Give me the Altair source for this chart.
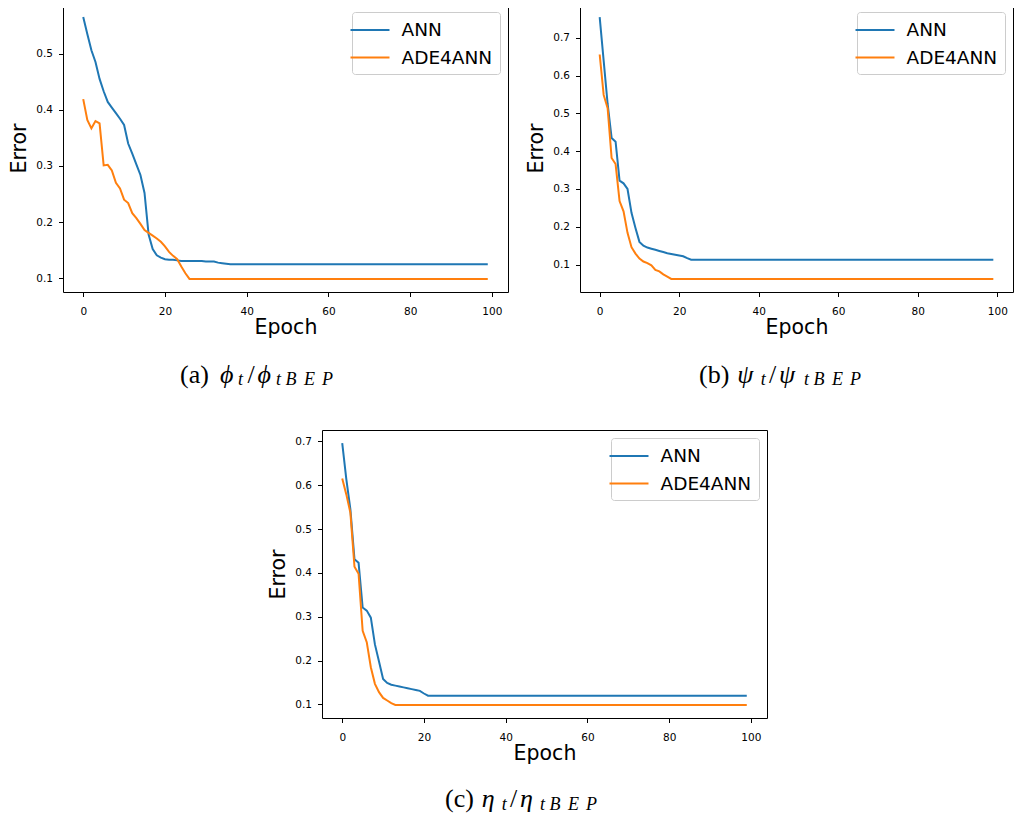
import altair as alt
import pandas as pd

# ---------------- data ----------------
epochs = list(range(100))
series_names = ["ANN", "ADE4ANN"]
series_colors = ["#1f77b4", "#ff7f0e"]
x_ticks = [0, 20, 40, 60, 80, 100]

# (a) phi_t / phi_tBEP
ann_a = [0.565, 0.535, 0.506, 0.485, 0.455, 0.433, 0.414, 0.404, 0.394, 0.384,
         0.373, 0.340, 0.322, 0.303, 0.284, 0.252, 0.178, 0.152, 0.141, 0.137,
         0.134, 0.133, 0.133, 0.132, 0.131, 0.131, 0.131, 0.131, 0.131, 0.131,
         0.130, 0.130, 0.130, 0.128, 0.127, 0.126] + [0.125] * 64
ade_a = [0.419, 0.382, 0.367, 0.380, 0.376, 0.301, 0.302, 0.292, 0.270, 0.260,
         0.240, 0.234, 0.216, 0.207, 0.197, 0.186, 0.181, 0.176, 0.171, 0.165,
         0.157, 0.147, 0.140, 0.134, 0.121, 0.109] + [0.099] * 74
yticks_a = [0.1, 0.2, 0.3, 0.4, 0.5]

# (b) psi_t / psi_tBEP
ann_b = [0.755, 0.640, 0.525, 0.435, 0.425, 0.322, 0.315, 0.300, 0.237, 0.197,
         0.160, 0.150, 0.145, 0.142, 0.139, 0.136, 0.133, 0.130, 0.128, 0.126,
         0.124, 0.122, 0.117] + [0.113] * 77
ade_b = [0.656, 0.549, 0.514, 0.382, 0.366, 0.268, 0.241, 0.184, 0.146, 0.129,
         0.116, 0.108, 0.104, 0.098, 0.086, 0.082, 0.074, 0.068] + [0.062] * 82
yticks_b = [0.1, 0.2, 0.3, 0.4, 0.5, 0.6, 0.7]

# (c) eta_t / eta_tBEP
ann_c = [0.696, 0.614, 0.545, 0.431, 0.423, 0.321, 0.314, 0.298, 0.237, 0.198,
         0.158, 0.149, 0.145, 0.143, 0.141, 0.139, 0.137, 0.135, 0.133, 0.131,
         0.125] + [0.120] * 79
ade_c = [0.615, 0.579, 0.537, 0.414, 0.398, 0.268, 0.242, 0.185, 0.147, 0.128,
         0.115, 0.109, 0.103] + [0.099] * 87
yticks_c = [0.1, 0.2, 0.3, 0.4, 0.5, 0.6, 0.7]

# caption pieces: (text, italic, subscript)
cap_a = [("(a)", False, False), ("ϕ", True, False), ("t", True, True), ("/", False, False),
         ("ϕ", True, False), ("t", True, True), ("B", True, True), ("E", True, True), ("P", True, True)]
cap_b = [("(b)", False, False), ("ψ", True, False), ("t", True, True), ("/", False, False),
         ("ψ", True, False), ("t", True, True), ("B", True, True), ("E", True, True), ("P", True, True)]
cap_c = [("(c)", False, False), ("η", True, False), ("t", True, True), ("/", False, False),
         ("η", True, False), ("t", True, True), ("B", True, True), ("E", True, True), ("P", True, True)]

# ---------------- layout (pixels) ----------------
H = 288
SERIF = "Liberation Serif"
MAIN_SIZE = 26
SUB_SIZE = 18


def caption_layers(pieces, xs, base_y, sub_dy):
    dummy = pd.DataFrame({"k": [0]})
    layers = []
    for (txt, italic, sub), x in zip(pieces, xs):
        kw = dict(text=txt, font=SERIF, fontSize=SUB_SIZE if sub else MAIN_SIZE,
                  align="left", baseline="alphabetic", color="black")
        if italic:
            kw["fontStyle"] = "italic"
        layers.append(
            alt.Chart(dummy).mark_text(**kw).encode(
                x=alt.value(x), y=alt.value(base_y + (sub_dy if sub else 0))
            )
        )
    return layers


def panel(ann, ade, yticks, width, pieces, xs, base_y):
    df = pd.DataFrame({
        "Epoch": epochs + epochs,
        "Error": ann + ade,
        "Model": [series_names[0]] * len(ann) + [series_names[1]] * len(ade),
    })
    vals = ann + ade
    lo, hi = min(vals), max(vals)
    m = (hi - lo) * 0.05
    lines = alt.Chart(df).mark_line(strokeWidth=2).encode(
        x=alt.X("Epoch:Q",
                scale=alt.Scale(domain=[-4.95, 103.95], nice=False, zero=False),
                axis=alt.Axis(values=x_ticks, format="d", title="Epoch")),
        y=alt.Y("Error:Q",
                scale=alt.Scale(domain=[lo - m, hi + m], nice=False, zero=False),
                axis=alt.Axis(values=yticks, format=".1f", title="Error")),
        color=alt.Color("Model:N",
                        scale=alt.Scale(domain=series_names, range=series_colors),
                        legend=alt.Legend(title=None)),
    )
    return alt.layer(lines, *caption_layers(pieces, xs, base_y, 2.7)).properties(
        width=width, height=H
    )


# caption x positions relative to each plot's left edge
xs_a = [117, 157, 175, 184.5, 194.5, 213, 222.5, 241, 259]
xs_b = [119, 157.3, 180.7, 189, 199, 224, 233.5, 252, 270]
xs_c = [123, 159.7, 179.7, 188, 198, 218, 227.5, 246, 264]

pa = panel(ann_a, ade_a, yticks_a, 445, cap_a, xs_a, 378.7)
pb = panel(ann_b, ade_b, yticks_b, 433, cap_b, xs_b, 378.7)
pc = panel(ann_c, ade_c, yticks_c, 445, cap_c, xs_c, 377.0)

spacer = alt.Chart(pd.DataFrame({"k": [0]})).mark_point(opacity=0).encode(
    x=alt.value(0), y=alt.value(0)
).properties(width=205, height=H, view=alt.ViewBackground(strokeOpacity=0))

row1 = alt.hconcat(pa, pb, spacing=17).resolve_legend(color="independent")
row2 = alt.hconcat(spacer, pc, spacing=0).resolve_legend(color="independent")

chart = alt.vconcat(row1, row2, spacing=37).resolve_legend(
    color="independent"
).properties(
    padding={"left": 1, "top": -5, "right": 0, "bottom": 0},
    background="white",
).configure_view(
    stroke="black", strokeWidth=1
).configure_axis(
    domain=False, grid=False, tickColor="black", tickSize=4.5, tickWidth=1,
    labelFont="DejaVu Sans", labelFontSize=10.5, labelColor="black",
    titleFont="DejaVu Sans", titleFontSize=20.5, titleFontWeight="normal", titleColor="black",
).configure_axisX(
    labelPadding=10, titlePadding=0
).configure_axisY(
    labelPadding=6, titlePadding=6
).configure_legend(
    orient="top-right", offset=8, padding=7, strokeColor="#cccccc", cornerRadius=3,
    fillColor="white", labelFont="DejaVu Sans", labelFontSize=18.5, labelColor="black",
    symbolType="M-2,0H2", symbolSize=380, symbolStrokeWidth=2,
    labelOffset=20.5, rowPadding=6.5,
)

chart.save("out.html", embed_options={"renderer": "svg", "actions": False})
